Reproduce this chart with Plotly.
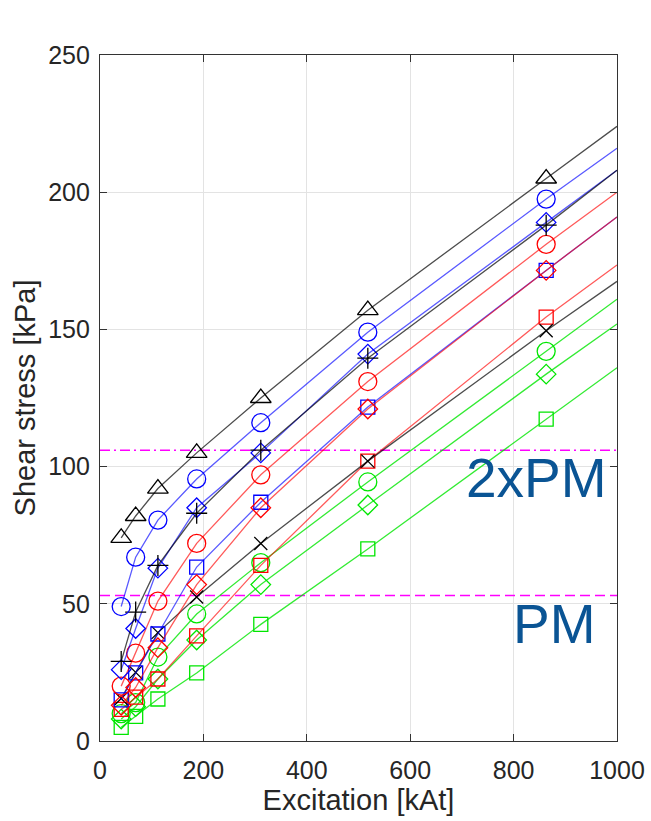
import plotly.graph_objects as go

# ---- data ----
excitation = [41, 69, 112, 187, 311, 518, 863]
x_end = 1000

black_triangle = [74, 82, 92, 105, 125, 157, 205]
blue_circle = [49, 67, 80.5, 95.5, 116, 149, 197.5]
blue_diamond = [26, 41, 63, 85, 105, 141, 189]
black_plus = [29, 47, 64, 83, 106, 139.5, 188]
red_circle = [20, 32, 51, 72, 97, 131, 181]
red_diamond = [13, 19.5, 34, 57, 85, 121, 171.5]
blue_square = [15, 24.8, 39, 63.4, 87, 121.7, 171.5]
black_x = [15.5, 25, 39.5, 52.5, 72, 102, 149.5]
red_square = [11.5, 16, 22.6, 38.3, 64, 102, 154.5]
green_circle = [10, 14, 30.6, 46.3, 65, 94.4, 142]
green_diamond = [8, 12.5, 22.6, 36.8, 57, 86, 133.7]
green_square = [5, 9, 15.3, 24.8, 42.5, 70, 117.3]

# value of each line where it meets the right edge (x = 1000)
end_values = {
    "black_triangle": 224, "blue_circle": 216, "blue_diamond": 208,
    "black_plus": 208, "red_circle": 200, "red_diamond": 191,
    "blue_square": 191, "black_x": 167.5, "red_square": 173.5,
    "green_circle": 161, "green_diamond": 152, "green_square": 136,
}

pm_level = 53
pm2_level = 106

x_ticks = [0, 200, 400, 600, 800, 1000]
y_ticks = [0, 50, 100, 150, 200, 250]

# ---- styles ----
colors = {
    "black": ("rgba(0,0,0,0.7)", "#000000"),
    "blue": ("rgba(0,0,255,0.65)", "#0000ff"),
    "red": ("rgba(255,0,0,0.65)", "#ff0000"),
    "green": ("rgba(0,230,0,0.8)", "#00e600"),
}
series = [
    ("green_square", green_square, "green", "square-open", 14),
    ("green_diamond", green_diamond, "green", "diamond-open", 15),
    ("green_circle", green_circle, "green", "circle-open", 18),
    ("red_square", red_square, "red", "square-open", 14),
    ("black_x", black_x, "black", "x-thin-open", 13),
    ("blue_square", blue_square, "blue", "square-open", 14),
    ("red_diamond", red_diamond, "red", "diamond-open", 15),
    ("red_circle", red_circle, "red", "circle-open", 18),
    ("blue_diamond", blue_diamond, "blue", "diamond-open", 15),
    ("black_plus", black_plus, "black", "cross-thin-open", 15),
    ("blue_circle", blue_circle, "blue", "circle-open", 18),
    ("black_triangle", black_triangle, "black", "triangle-up-open", 18),
]

FONT = "Arial, Liberation Sans, sans-serif"

fig = go.Figure()

# reference lines
fig.add_trace(go.Scatter(x=[0, x_end], y=[pm_level, pm_level], mode="lines",
                         line=dict(color="#ff00ff", width=1.5, dash="10px,5px"),
                         showlegend=False, hoverinfo="skip"))
fig.add_trace(go.Scatter(x=[0, x_end], y=[pm2_level, pm2_level], mode="lines",
                         line=dict(color="#ff00ff", width=1.5, dash="10px,4px,2px,4px"),
                         showlegend=False, hoverinfo="skip"))

for name, vals, col, sym, size in series:
    lc, mc = colors[col]
    fig.add_trace(go.Scatter(x=excitation + [x_end], y=vals + [end_values[name]],
                             mode="lines", line=dict(color=lc, width=1.3),
                             showlegend=False, hoverinfo="skip"))
    fig.add_trace(go.Scatter(x=excitation, y=vals, mode="markers",
                             marker=dict(symbol=sym, size=size, color=mc,
                                         line=dict(color=mc, width=1.3)),
                             showlegend=False))

axis_common = dict(
    showline=True, linecolor="#333333", linewidth=1.2, mirror="ticks",
    ticks="inside", ticklen=7, tickcolor="#333333", tickwidth=1.2,
    showgrid=True, gridcolor="#e3e3e3", gridwidth=1, zeroline=False,
    automargin=False,
    tickfont=dict(family=FONT, size=25, color="#262626"),
)

fig.update_xaxes(range=[0, 1000], tickvals=x_ticks, ticklabelstandoff=7,
                 title=dict(text="Excitation [kAt]",
                            font=dict(family=FONT, size=29, color="#262626"),
                            standoff=6),
                 **axis_common)
fig.update_yaxes(range=[0, 250], tickvals=y_ticks, ticklabelstandoff=4,
                 title=dict(text="Shear stress [kPa]",
                            font=dict(family=FONT, size=29, color="#262626"),
                            standoff=4),
                 **axis_common)

fig.add_annotation(text="2xPM", xref="paper", yref="y", x=0.985, y=96,
                   xanchor="right", yanchor="middle", showarrow=False,
                   font=dict(family=FONT, size=55, color="#0a5494"))
fig.add_annotation(text="PM", xref="paper", yref="y", x=0.963, y=42.6,
                   xanchor="right", yanchor="middle", showarrow=False,
                   font=dict(family=FONT, size=55, color="#0a5494"))

fig.update_layout(
    width=651, height=821,
    margin=dict(l=100, r=34, t=55, b=80),
    plot_bgcolor="white", paper_bgcolor="white",
    showlegend=False,
)

fig.write_html("out.html")
